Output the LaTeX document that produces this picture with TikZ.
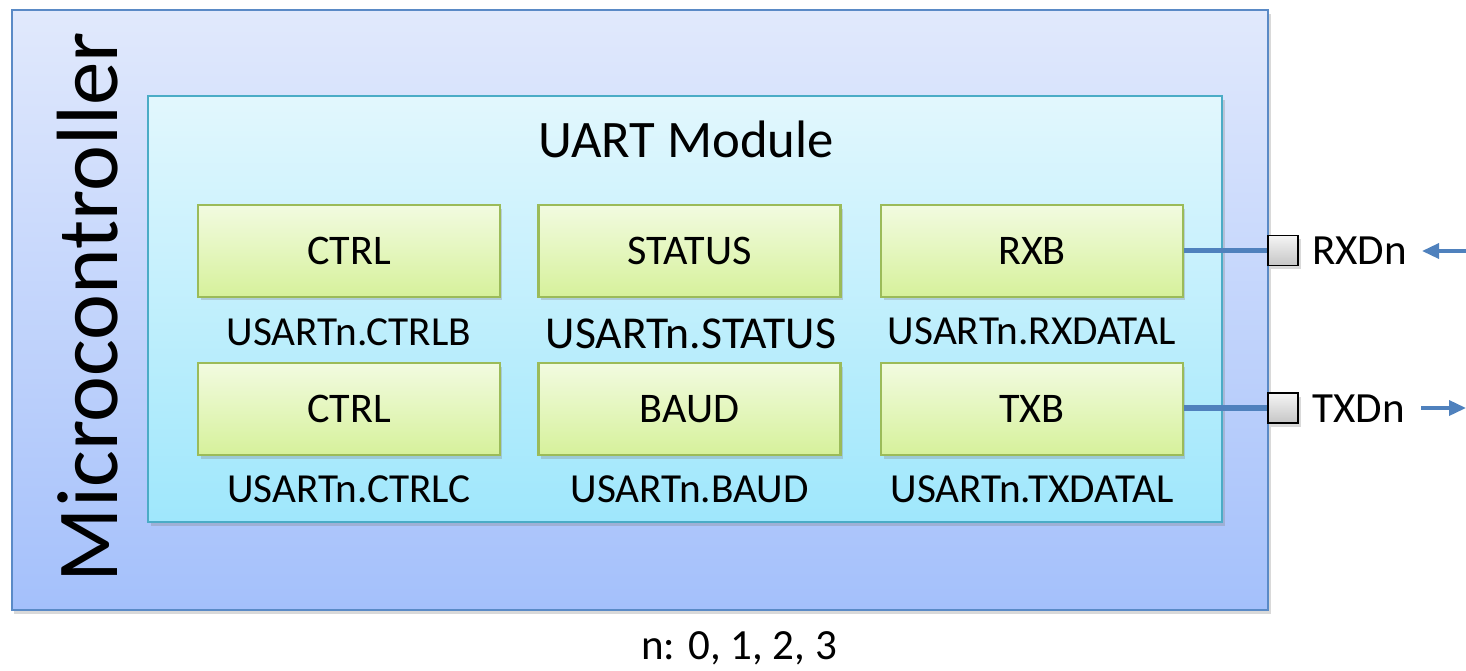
\documentclass[tikz,border=0pt]{standalone}
\usepackage{fontspec}
\setmainfont{Carlito}
\usetikzlibrary{arrows.meta,positioning,shadows}

\definecolor{mcuTop}{HTML}{E1E9FC}
\definecolor{mcuBot}{HTML}{A4C0FB}
\definecolor{mcuLine}{HTML}{5A8AC6}
\definecolor{uartTop}{HTML}{E2F7FD}
\definecolor{uartBot}{HTML}{9FE7FC}
\definecolor{uartLine}{HTML}{4BACC6}
\definecolor{regTop}{HTML}{F2FBE0}
\definecolor{regBot}{HTML}{D6F19B}
\definecolor{regLine}{HTML}{9BBB59}
\definecolor{wire}{HTML}{4F81BD}

\tikzset{
  softshadow/.style={drop shadow={opacity=0.3, shadow xshift=0.05cm, shadow yshift=-0.07cm}},
  reg/.style={draw=regLine, line width=1.2pt, top color=regTop, bottom color=regBot,
    minimum width=6.04cm, minimum height=1.84cm, softshadow, font=\fontsize{24}{26}\selectfont},
  regname/.style={font=\fontsize{23.5}{26}\selectfont},
  pin/.style={draw=black, line width=1pt, top color=gray!8, bottom color=gray!45,
    minimum size=0.6cm, inner sep=0pt, softshadow},
  pinname/.style={anchor=west, font=\fontsize{24.5}{26}\selectfont},
  wirelink/.style={wire, line width=3.3pt},
  sig/.style={wire, line width=2pt, -{Triangle[length=0.34cm, width=0.3cm]}}
}

\begin{document}
\begin{tikzpicture}[x=0.02cm, y=-0.02cm]
  \useasboundingbox (0,0) rectangle (1466,670);

  % microcontroller and uart module
  \path[softshadow, draw=mcuLine, line width=1.2pt, top color=mcuTop, bottom color=mcuBot]
    (12,10) rectangle (1268,610);
  \path[softshadow, draw=uartLine, line width=1.2pt, top color=uartTop, bottom color=uartBot]
    (148,96) rectangle (1222,522);
  \node[rotate=90, font=\fontsize{49.5}{52}\selectfont] (mcu) at (88,307) {Microcontroller};
  \node[font=\fontsize{30}{32}\selectfont] (uart) at (686,139) {UART Module};

  % registers
  \node[reg] (ctrlb) at (349,251) {CTRL};
  \node[reg] (status) at (689.5,251) {STATUS};
  \node[reg] (rxb) at (1032,251) {RXB};
  \node[reg] (ctrlc) at (349,409) {CTRL};
  \node[reg] (baud) at (689.5,409) {BAUD};
  \node[reg] (txb) at (1032,409) {TXB};

  \node[regname] (ctrlbname) at (349,332) {USARTn.CTRLB};
  \node[font=\fontsize{26}{28}\selectfont] (statusname) at (691,334) {USARTn.STATUS};
  \node[regname] (rxbname) at (1032,331) {USARTn.RXDATAL};
  \node[regname] (ctrlcname) at (349,489) {USARTn.CTRLC};
  \node[regname] (baudname) at (689.5,489) {USARTn.BAUD};
  \node[regname] (txbname) at (1032,489) {USARTn.TXDATAL};

  % pins
  \node[pin] (rxpin) at (1283,250.5) {};
  \node[pin] (txpin) at (1283,408) {};
  \node[pinname] (rxname) at (1306,251) {RXDn};
  \node[pinname] (txname) at (1306,409) {TXDn};

  \draw[wirelink] (rxb.east |- rxpin) -- (rxpin.west);
  \draw[wirelink] (txb.east |- txpin) -- (txpin.west);

  \coordinate (rxin) at (1466,251);
  \coordinate (rxend) at (1422,251);
  \coordinate (txstart) at (1421,408);
  \coordinate (txout) at (1466,408);
  \draw[sig] (rxin) -- (rxend);
  \draw[sig] (txstart) -- (txout);

  \node[font=\fontsize{24.5}{26}\selectfont] (nlist) at (739,648) {n: 0, 1, 2, 3};
\end{tikzpicture}
\end{document}
